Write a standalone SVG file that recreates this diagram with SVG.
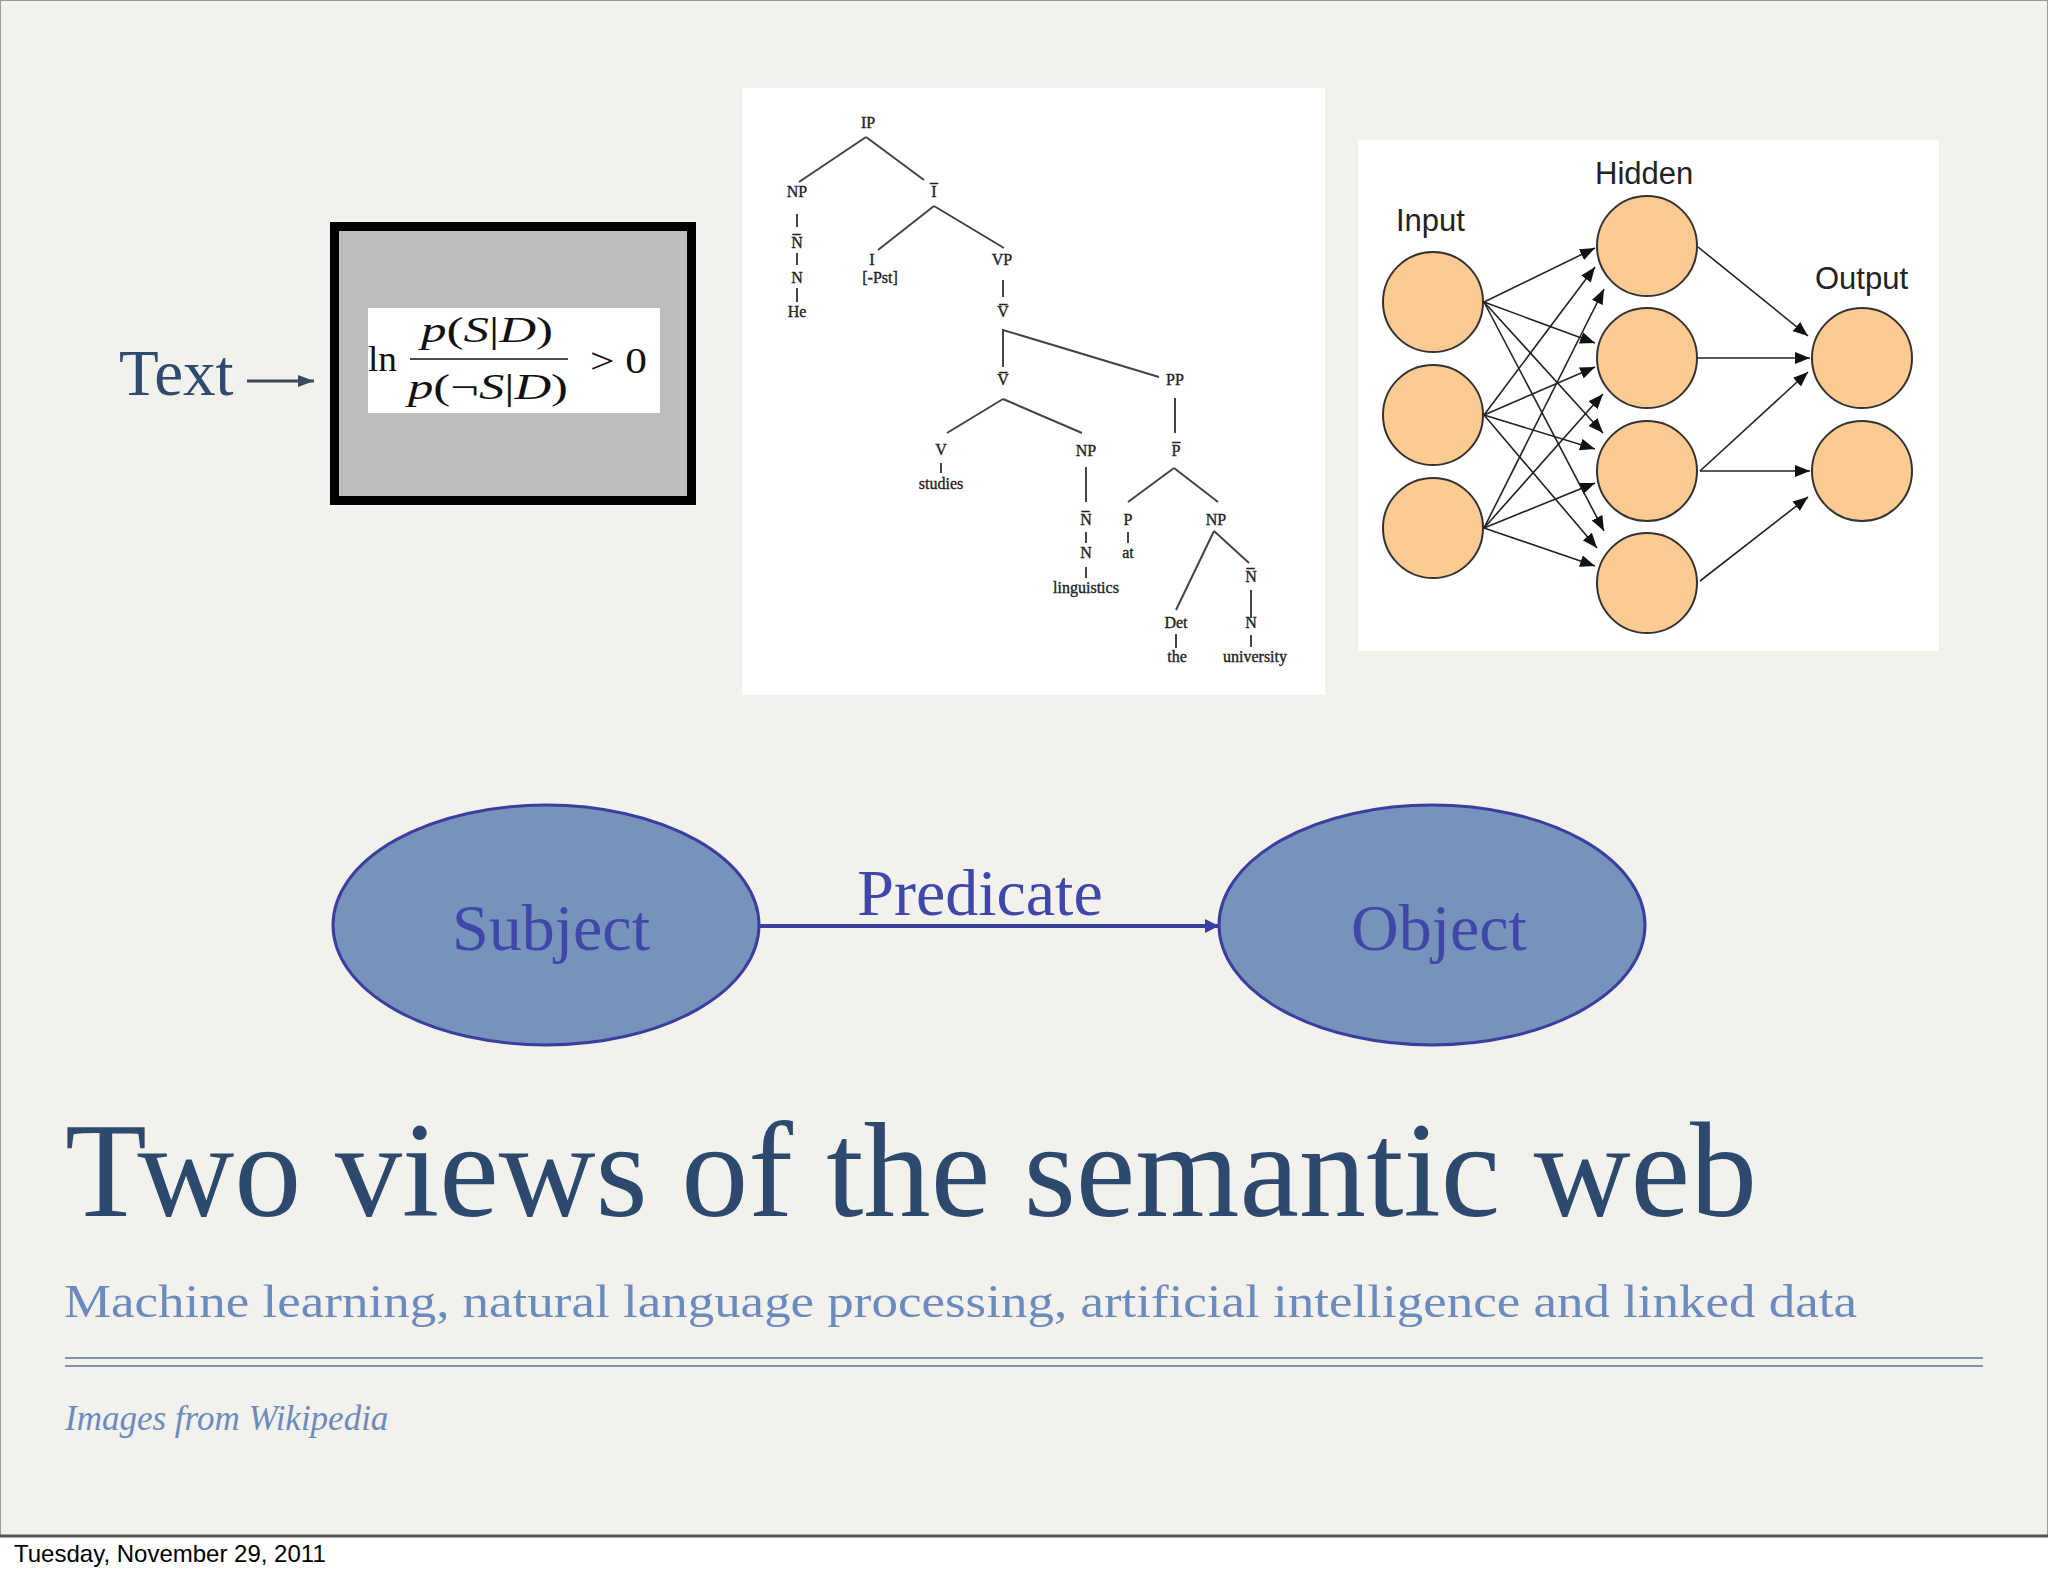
<svg xmlns="http://www.w3.org/2000/svg" width="2048" height="1576" viewBox="0 0 2048 1576">
<defs>
<style>
.tree-t{font-family:"Liberation Serif",serif;font-size:16px;fill:#222;stroke:#222;stroke-width:0.35;text-anchor:middle}
.tree-l{stroke:#444;stroke-width:2;fill:none}
.nn-c{fill:#fdca92;stroke:#333;stroke-width:2}
.nn-l{stroke:#222;stroke-width:1.6;fill:none;marker-end:url(#ahNN)}
.nn-t{font-family:"Liberation Sans",Arial,sans-serif;font-size:31px;fill:#222}
.rdf-e{fill:#7893bb;stroke:#3a3ea0;stroke-width:3}
.rdf-t{font-family:"Liberation Serif",serif;font-size:66px;fill:#3f47a8;text-anchor:middle}
.math{font-family:"Liberation Serif",serif;font-size:36px;fill:#111}
</style>
<marker id="ahNN" markerUnits="userSpaceOnUse" markerWidth="15" markerHeight="12" refX="15" refY="6" orient="auto"><path d="M0,0 L15,6 L0,12 z" fill="#111"/></marker>
<marker id="ahBlue" markerUnits="userSpaceOnUse" markerWidth="14" markerHeight="14" refX="14" refY="7" orient="auto"><path d="M0,0 L14,7 L0,14 z" fill="#3a3ea0"/></marker>
<marker id="ahDark" markerUnits="userSpaceOnUse" markerWidth="16" markerHeight="12" refX="16" refY="6" orient="auto"><path d="M0,0 L16,6 L0,12 z" fill="#3b4a5e"/></marker>
</defs>

<!-- background -->
<rect x="0" y="0" width="2048" height="1576" fill="#ffffff"/>
<rect x="0.5" y="0.5" width="2047" height="1535" fill="#f3f1ec" stroke="#9a9a9a" stroke-width="1"/>
<line x1="0" y1="1536" x2="2048" y2="1536" stroke="#555" stroke-width="3"/>

<!-- Text -> formula -->
<g id="text-label">
<text x="119" y="395" font-family="Liberation Serif, serif" font-size="65" fill="#2e4a6e">Text</text>
</g>
<g id="formula-box">
<rect x="334.5" y="226.5" width="357" height="274" fill="#bebdbe" stroke="#000" stroke-width="9"/>
<rect x="368" y="308" width="292" height="105" fill="#ffffff"/>
<text class="math" x="368" y="371" textLength="29" lengthAdjust="spacingAndGlyphs">ln</text>
<text class="math" x="421" y="342" textLength="132" lengthAdjust="spacingAndGlyphs"><tspan font-style="italic">p</tspan>(<tspan font-style="italic">S</tspan>|<tspan font-style="italic">D</tspan>)</text>
<line x1="410" y1="359" x2="568" y2="359" stroke="#111" stroke-width="1.6"/>
<text class="math" x="408" y="399" textLength="160" lengthAdjust="spacingAndGlyphs"><tspan font-style="italic">p</tspan>(¬<tspan font-style="italic">S</tspan>|<tspan font-style="italic">D</tspan>)</text>
<text class="math" x="590" y="373" textLength="57" lengthAdjust="spacingAndGlyphs">&gt; 0</text>
</g>

<!-- parse tree -->
<g id="parse-tree">
<rect x="742" y="88" width="583" height="607" fill="#ffffff"/>
<g class="tree-l">
<path d="M866,137 L799,182 M866,137 L924,180"/>
<path d="M797,214 L797,227 M797,253 L797,265 M797,288 L797,302"/>
<path d="M934,206 L878,250 M934,206 L1004,248"/>
<path d="M1003,280 L1003,297"/>
<path d="M1003,367 L1003,330 L1159,377"/>
<path d="M1003,399 L947,433 M1003,399 L1082,433"/>
<path d="M1175,398 L1175,433"/>
<path d="M941,463 L941,473"/>
<path d="M1086,467 L1086,502 M1086,532 L1086,543 M1086,567 L1086,578"/>
<path d="M1174,468 L1128,502 M1174,468 L1218,502"/>
<path d="M1128,532 L1128,543"/>
<path d="M1214,531 L1176,610 M1214,531 L1249,563"/>
<path d="M1251,590 L1251,618 M1251,635 L1251,647"/>
<path d="M1176,634 L1176,648"/>
</g>
<text class="tree-t" x="868" y="128">IP</text>
<text class="tree-t" x="797" y="197">NP</text>
<text class="tree-t" x="934" y="197">I̅</text>
<text class="tree-t" x="797" y="248">N̅</text>
<text class="tree-t" x="797" y="283">N</text>
<text class="tree-t" x="797" y="317">He</text>
<text class="tree-t" x="872" y="265">I</text>
<text class="tree-t" x="880" y="283">[-Pst]</text>
<text class="tree-t" x="1002" y="265">VP</text>
<text class="tree-t" x="1003" y="317">V̅</text>
<text class="tree-t" x="1003" y="385">V̅</text>
<text class="tree-t" x="1175" y="385">PP</text>
<text class="tree-t" x="941" y="455">V</text>
<text class="tree-t" x="941" y="489">studies</text>
<text class="tree-t" x="1086" y="456">NP</text>
<text class="tree-t" x="1086" y="525">N̅</text>
<text class="tree-t" x="1086" y="558">N</text>
<text class="tree-t" x="1086" y="593">linguistics</text>
<text class="tree-t" x="1176" y="456">P̅</text>
<text class="tree-t" x="1128" y="525">P</text>
<text class="tree-t" x="1128" y="558">at</text>
<text class="tree-t" x="1216" y="525">NP</text>
<text class="tree-t" x="1251" y="582">N̅</text>
<text class="tree-t" x="1251" y="628">N</text>
<text class="tree-t" x="1255" y="662">university</text>
<text class="tree-t" x="1176" y="628">Det</text>
<text class="tree-t" x="1177" y="662">the</text>
</g>

<!-- neural network -->
<g id="neural-net">
<rect x="1358" y="140" width="581" height="511" fill="#ffffff"/>
<text class="nn-t" x="1396" y="231">Input</text>
<text class="nn-t" x="1595" y="184">Hidden</text>
<text class="nn-t" x="1815" y="289">Output</text>
<g id="in1"><circle class="nn-c" cx="1433" cy="302" r="50"/></g>
<g id="in2"><circle class="nn-c" cx="1433" cy="415" r="50"/></g>
<g id="in3"><circle class="nn-c" cx="1433" cy="528" r="50"/></g>
<g id="h1"><circle class="nn-c" cx="1647" cy="246" r="50"/></g>
<g id="h2"><circle class="nn-c" cx="1647" cy="358" r="50"/></g>
<g id="h3"><circle class="nn-c" cx="1647" cy="471" r="50"/></g>
<g id="h4"><circle class="nn-c" cx="1647" cy="583" r="50"/></g>
<g id="o1"><circle class="nn-c" cx="1862" cy="358" r="50"/></g>
<g id="o2"><circle class="nn-c" cx="1862" cy="471" r="50"/></g>
</g>

<!-- connectors -->
<g id="connectors">
<g id="nn-edges">
<line class="nn-l" x1="1484" y1="302" x2="1595" y2="248"/>
<line class="nn-l" x1="1484" y1="415" x2="1595" y2="267"/>
<line class="nn-l" x1="1484" y1="528" x2="1604" y2="289"/>
<line class="nn-l" x1="1484" y1="302" x2="1595" y2="343"/>
<line class="nn-l" x1="1484" y1="415" x2="1595" y2="367"/>
<line class="nn-l" x1="1484" y1="528" x2="1603" y2="394"/>
<line class="nn-l" x1="1484" y1="302" x2="1603" y2="433"/>
<line class="nn-l" x1="1484" y1="415" x2="1595" y2="449"/>
<line class="nn-l" x1="1484" y1="528" x2="1595" y2="483"/>
<line class="nn-l" x1="1484" y1="302" x2="1604" y2="531"/>
<line class="nn-l" x1="1484" y1="415" x2="1597" y2="548"/>
<line class="nn-l" x1="1484" y1="528" x2="1595" y2="566"/>
<line class="nn-l" x1="1698" y1="247" x2="1808" y2="336"/>
<line class="nn-l" x1="1698" y1="358" x2="1810" y2="358"/>
<line class="nn-l" x1="1700" y1="471" x2="1808" y2="372"/>
<line class="nn-l" x1="1700" y1="471" x2="1810" y2="471"/>
<line class="nn-l" x1="1700" y1="581" x2="1808" y2="497"/>
</g>
<line id="text-arrow" x1="247" y1="381" x2="314" y2="381" stroke="#3b4a5e" stroke-width="3" marker-end="url(#ahDark)"/>
<line id="predicate-edge" x1="760" y1="926" x2="1219" y2="926" stroke="#3a3ea0" stroke-width="4" marker-end="url(#ahBlue)"/>
<text x="980" y="915" class="rdf-t">Predicate</text>
</g>

<!-- RDF triple -->
<g id="subject">
<ellipse class="rdf-e" cx="546" cy="925" rx="213" ry="120"/>
<text class="rdf-t" x="551" y="950">Subject</text>
</g>
<g id="object">
<ellipse class="rdf-e" cx="1432" cy="925" rx="213" ry="120"/>
<text class="rdf-t" x="1439" y="950">Object</text>
</g>

<!-- titles -->
<g id="title">
<text x="65" y="1216" font-family="Liberation Serif, serif" font-size="136" fill="#2d4a6e" textLength="1692" lengthAdjust="spacingAndGlyphs">Two views of the semantic web</text>
<text x="64" y="1317" font-family="Liberation Serif, serif" font-size="47" fill="#6b8bbf" textLength="1793" lengthAdjust="spacingAndGlyphs">Machine learning, natural language processing, artificial intelligence and linked data</text>
<line x1="65" y1="1358" x2="1983" y2="1358" stroke="#8194b5" stroke-width="2"/>
<line x1="65" y1="1366" x2="1983" y2="1366" stroke="#8194b5" stroke-width="2"/>
<text x="65" y="1430" font-family="Liberation Serif, serif" font-style="italic" font-size="35" fill="#6b8bbf">Images from Wikipedia</text>
</g>
<text x="14" y="1562" font-family="Liberation Sans, Arial, sans-serif" font-size="24" fill="#000">Tuesday, November 29, 2011</text>
</svg>
